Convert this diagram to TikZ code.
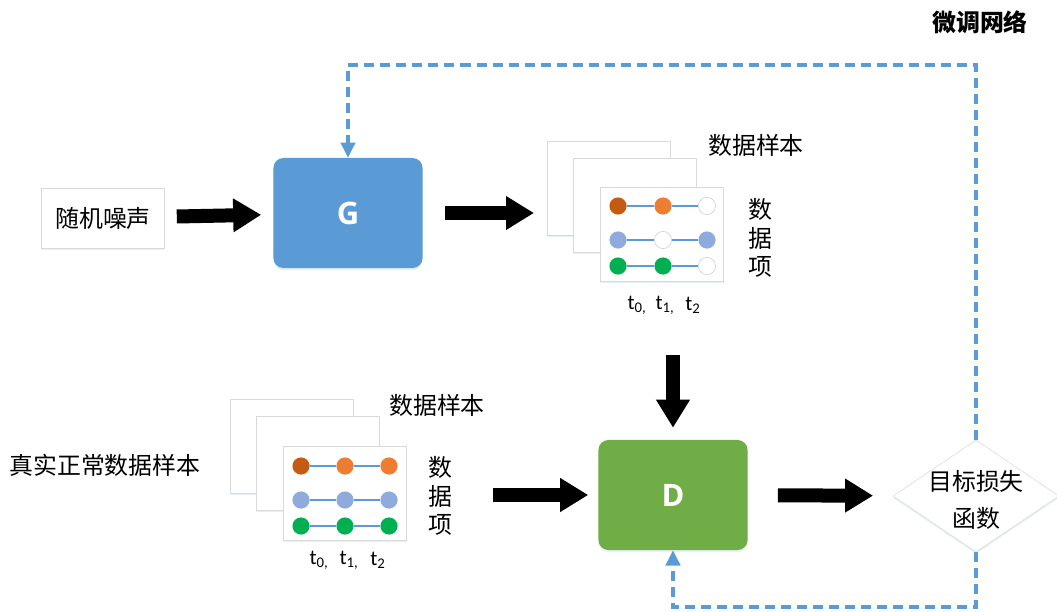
\documentclass[tikz,border=0pt]{standalone}
\usepackage{fontspec}
\setmainfont{Noto Sans CJK SC}
\newfontfamily\latinfont{Carlito}
\newfontfamily\boxfont{Open Sans}
\usepackage{xcolor}
\usetikzlibrary{arrows.meta,positioning,shapes.geometric,shadows}

\definecolor{gblue}{HTML}{5B9BD5}
\definecolor{dgreen}{HTML}{70AD47}
\definecolor{rust}{HTML}{C55A11}
\definecolor{peach}{HTML}{ED7D31}
\definecolor{lav}{HTML}{8FAADC}
\definecolor{vgreen}{HTML}{00B050}

\begin{document}
\begin{tikzpicture}[x=0.025cm,y=-0.025cm,
  txt/.style={font=\fontsize{17}{20}\selectfont,inner sep=0pt},
  soft/.style={drop shadow={shadow xshift=0pt,shadow yshift=-1.5pt,fill=gblue!40,opacity=0.35}},
  box/.style={draw=gray!30,fill=white,soft,minimum width=3.075cm,minimum height=1.5cm,txt},
  net/.style={rounded corners=7pt,minimum width=3.725cm,minimum height=2.75cm,soft,
    text=white,font=\boxfont\bfseries\fontsize{22}{24}\selectfont},
  sheet/.style={draw=gray!30,fill=white,soft,minimum width=3.075cm,minimum height=2.35cm},
  dot/.style={circle,minimum size=0.43cm,inner sep=0pt},
  rustdot/.style={dot,fill=rust},
  peachdot/.style={dot,fill=peach},
  lavdot/.style={dot,fill=lav},
  greendot/.style={dot,fill=vgreen},
  emptydot/.style={dot,fill=white,draw=gray!40},
  link/.style={draw=gblue,line width=1.4pt},
  tlab/.style={font=\latinfont\fontsize{15}{16}\selectfont,inner sep=0pt},
  vlab/.style={txt,align=center},
  big/.style={line width=0.35cm,-{Triangle[length=0.7cm,width=0.8cm]}},
  fb/.style={draw=gblue,line width=2.2pt,dash pattern=on 0.25cm off 0.15cm,
    -{Triangle[length=0.38cm,width=0.36cm,fill=gblue]}}]
\useasboundingbox (0,0) rectangle (1057,611);

% generator branch
\node[box] (noise) at (103,218) {随机噪声};
\node[net,fill=gblue] (g) at (348,213) {G};

\node[sheet] (a1) at (609,188) {};
\node[sheet] (a2) at (635,205) {};
\node[sheet] (a3) at (662,234) {};
\foreach \r/\y/\a/\b/\c in {1/206/rustdot/peachdot/emptydot,
    2/240/lavdot/emptydot/lavdot, 3/266/greendot/greendot/emptydot} {
  \node[\a] (g\r a) at (618,\y) {};
  \node[\b] (g\r b) at (663,\y) {};
  \node[\c] (g\r c) at (707,\y) {};
  \draw[link] (g\r a) -- (g\r b) -- (g\r c);
}
\node[txt] (gsmp) at (756,145) {数据样本};
\node[vlab] (gitem) at (760,238) {数\\据\\项};
\node[tlab] (gt0) at (637,305) {t\textsubscript{0,}};
\node[tlab] (gt1) at (665,305) {t\textsubscript{1,}};
\node[tlab] (gt2) at (693,305) {t\textsubscript{2}};

% real data branch
\node[txt] (real) at (105,465) {真实正常数据样本};
\node[sheet] (b1) at (292,446) {};
\node[sheet] (b2) at (318,463) {};
\node[sheet] (b3) at (345,493) {};
\foreach \r/\y/\a/\b/\c in {1/466/rustdot/peachdot/peachdot,
    2/500/lavdot/lavdot/lavdot, 3/526/greendot/greendot/greendot} {
  \node[\a] (r\r a) at (301,\y) {};
  \node[\b] (r\r b) at (345,\y) {};
  \node[\c] (r\r c) at (389,\y) {};
  \draw[link] (r\r a) -- (r\r b) -- (r\r c);
}
\node[txt] (rsmp) at (437,405) {数据样本};
\node[vlab] (ritem) at (440,496) {数\\据\\项};
\node[tlab] (rt0) at (319,560) {t\textsubscript{0,}};
\node[tlab] (rt1) at (349,560) {t\textsubscript{1,}};
\node[tlab] (rt2) at (378,560) {t\textsubscript{2}};

% discriminator and loss
\node[net,fill=dgreen] (d) at (673,495) {D};
\node[diamond,draw=gray!30,fill=white,soft,aspect=1.48,minimum width=4.15cm,
  minimum height=2.8cm,inner sep=0pt] (loss) at (976,496) {};
\node[txt,align=center,font=\fontsize{17}{26}\selectfont] (losstxt) at (976,500) {目标损失\\函数};
\node[txt,font=\bfseries\fontsize{17}{20}\selectfont] (tune) at (980,22) {微调网络};

\coordinate (gout) at (673,355);
\coordinate (rout) at (493,495);
\coordinate (top) at (0,65);
\coordinate (bot) at (0,607);

\draw[big,shorten <=0.3cm,shorten >=0.3cm] (noise) -- (g);
\draw[big,shorten <=0.55cm,shorten >=0.33cm] (g.east) -- (a1.west |- g.east);
\draw[big,shorten >=0.3cm] (gout) -- (d);
\draw[big,shorten >=0.25cm] (rout) -- (d);
\draw[big,shorten <=0.75cm,shorten >=0.5cm] (d) -- (loss);

% feedback to both networks
\draw[fb] (loss.north) -- (loss.north |- top) -- (g.north |- top) -- (g.north);
\draw[fb] (loss.south) -- (loss.south |- bot) -- (d.south |- bot) -- (d.south);
\end{tikzpicture}
\end{document}
